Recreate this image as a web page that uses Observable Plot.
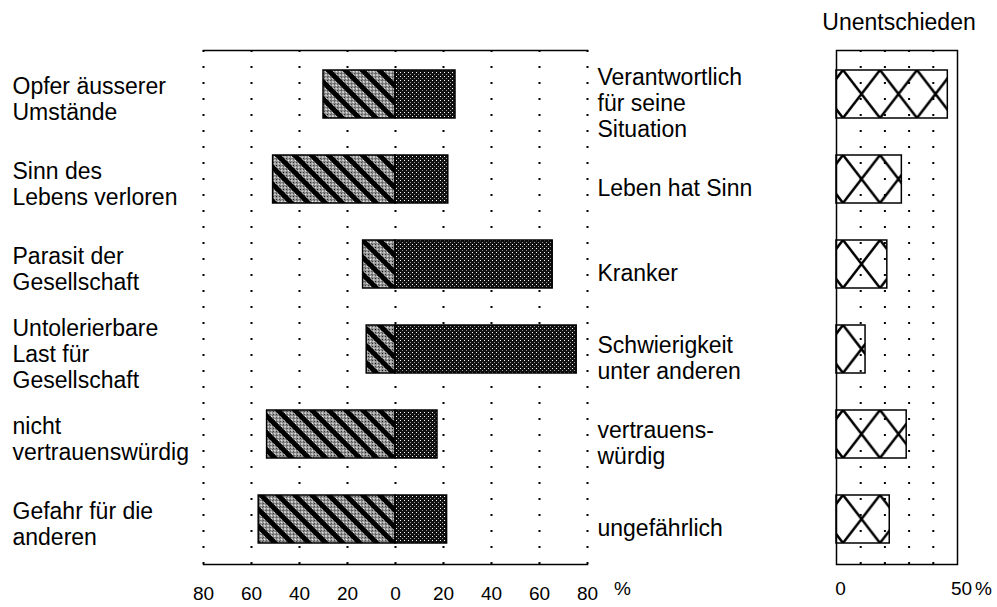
<!DOCTYPE html>
<html>
<head>
<meta charset="utf-8">
<script src="https://cdn.jsdelivr.net/npm/d3@7"></script>
<script src="https://cdn.jsdelivr.net/npm/@observablehq/plot@0.6"></script>
<style>
  body { margin: 0; background: #fff; }
  #chart { position: relative; width: 997px; height: 607px; }
  #chart > svg { position: absolute; left: 0; top: 0; }
</style>
</head>
<body>
<svg width="0" height="0" style="position:absolute">
  <defs>
    <pattern id="lightDots" width="2" height="2" patternUnits="userSpaceOnUse">
      <rect width="2" height="2" fill="#fff"/>
      <rect x="0" y="0" width="1" height="1" fill="#000"/>
      <rect x="1" y="1" width="1" height="1" fill="#555"/>
    </pattern>
    <pattern id="stripes" width="12" height="12" patternUnits="userSpaceOnUse" patternTransform="rotate(-45)">
      <rect width="12" height="12" fill="url(#lightDots)"/>
      <rect x="0" y="0" width="5" height="12" fill="#000"/>
    </pattern>
    <pattern id="dark" width="4" height="4" patternUnits="userSpaceOnUse">
      <rect width="4" height="4" fill="#111"/>
      <rect x="0" y="0" width="1" height="1" fill="#fff"/>
      <rect x="2" y="2" width="1" height="1" fill="#999"/>
    </pattern>
    <pattern id="xhatch" patternUnits="objectBoundingBox" x="0" y="0" width="1" height="1"></pattern>
  </defs>
</svg>
<div id="chart"></div>
<script>
const leftLabels = [
  "Opfer äusserer\nUmstände",
  "Sinn des\nLebens verloren",
  "Parasit der\nGesellschaft",
  "Untolerierbare\nLast für\nGesellschaft",
  "nicht\nvertrauenswürdig",
  "Gefahr für die\nanderen"
];
const rightLabels = [
  "Verantwortlich\nfür seine\nSituation",
  "Leben hat Sinn",
  "Kranker",
  "Schwierigkeit\nunter anderen",
  "vertrauens-\nwürdig",
  "ungefährlich"
];
const negativeValues = [30, 51, 13.5, 12, 53.5, 57];
const positiveValues = [25, 22, 65.5, 75.5, 17.5, 21.5];
const undecidedValues = [46, 27, 21, 12, 29, 22];
const mainTicks = [-80, -60, -40, -20, 0, 20, 40, 60, 80];
const undecidedTicks = [0, 50];
const undecidedGrid = [10, 20, 30, 40];
const undecidedTitle = "Unentschieden";
const unitLabel = "%";

const rows = leftLabels.map((l, i) => ({
  left: l, right: rightLabels[i],
  neg: negativeValues[i], pos: positiveValues[i], und: undecidedValues[i]
}));

const font = "'Liberation Sans', Arial, Helvetica, sans-serif";
const yScale = {domain: leftLabels, paddingInner: 0.43, paddingOuter: 0.215, axis: null};

const main = Plot.plot({
  width: 997, height: 607,
  marginLeft: 203, marginRight: 410, marginTop: 50, marginBottom: 43,
  style: {fontFamily: font, fontSize: "19px", background: "transparent", color: "#000"},
  x: {domain: [-80, 80], ticks: mainTicks, tickFormat: d => Math.abs(d), tickSize: 0, tickPadding: 22, label: null},
  y: yScale,
  marks: [
    Plot.ruleX(mainTicks, {stroke: "#000", strokeWidth: 2, strokeDasharray: "2,14"}),
    Plot.frame({anchor: "top", stroke: "#000", strokeWidth: 1.5}),
    Plot.frame({anchor: "bottom", stroke: "#000", strokeWidth: 1.5}),
    Plot.barX(rows, {x1: d => -d.neg, x2: 0, y: "left", fill: "url(#stripes)", stroke: "#000", strokeWidth: 1.5}),
    Plot.barX(rows, {x1: 0, x2: "pos", y: "left", fill: "url(#dark)", stroke: "#000", strokeWidth: 1.5}),
    Plot.text(rows, {x: -80, y: "left", text: "left", textAnchor: "start", dx: -191, dy: 4, fontSize: 23, lineHeight: 1.13, letterSpacing: "0.5px"}),
    Plot.text(rows, {x: 80, y: "left", text: "right", textAnchor: "start", dx: 10, dy: 8, fontSize: 23, lineHeight: 1.15, letterSpacing: "0.4px"}),
    Plot.text([unitLabel], {x: 80, text: d => d, frameAnchor: "bottom", dx: 35, dy: 30, fontSize: 19})
  ]
});

const side = Plot.plot({
  width: 997, height: 607,
  marginLeft: 836, marginRight: 40, marginTop: 50, marginBottom: 43,
  style: {fontFamily: font, fontSize: "19px", background: "transparent", color: "#000"},
  x: {domain: [0, 50], axis: null},
  y: yScale,
  marks: [
    Plot.ruleX(undecidedGrid, {stroke: "#000", strokeWidth: 2, strokeDasharray: "2,14"}),
    Plot.frame({stroke: "#000", strokeWidth: 1.5}),
    Plot.barX(rows, {x1: 0, x2: "und", y: "left", fill: "url(#xhatch)", stroke: "#000", strokeWidth: 1.5}),
    Plot.text(undecidedTicks, {x: d => d, text: d => String(d), frameAnchor: "bottom", dx: 4, dy: 30, fontSize: 19}),
    Plot.text([unitLabel], {x: 50, text: d => d, frameAnchor: "bottom", dx: 26, dy: 30, fontSize: 19}),
    Plot.text([undecidedTitle], {x: 25, text: d => d, frameAnchor: "top", dx: 2, dy: -37, fontSize: 23, letterSpacing: "0.5px"})
  ]
});

document.getElementById("chart").append(main, side);

// build cross-hatch content sized to the band height
const H = side.scale("y").bandwidth;
const P = 37, o = 7;
const pat = d3.select("#xhatch");
for (let k = -2; k < 10; k++) {
  const x0 = o + k * P;
  pat.append("line").attr("x1", x0).attr("y1", 0).attr("x2", x0 + P).attr("y2", H)
    .attr("stroke", "#000").attr("stroke-width", 2.5);
  pat.append("line").attr("x1", x0 + P).attr("y1", 0).attr("x2", x0).attr("y2", H)
    .attr("stroke", "#000").attr("stroke-width", 2.5);
}
</script>
</body>
</html>
